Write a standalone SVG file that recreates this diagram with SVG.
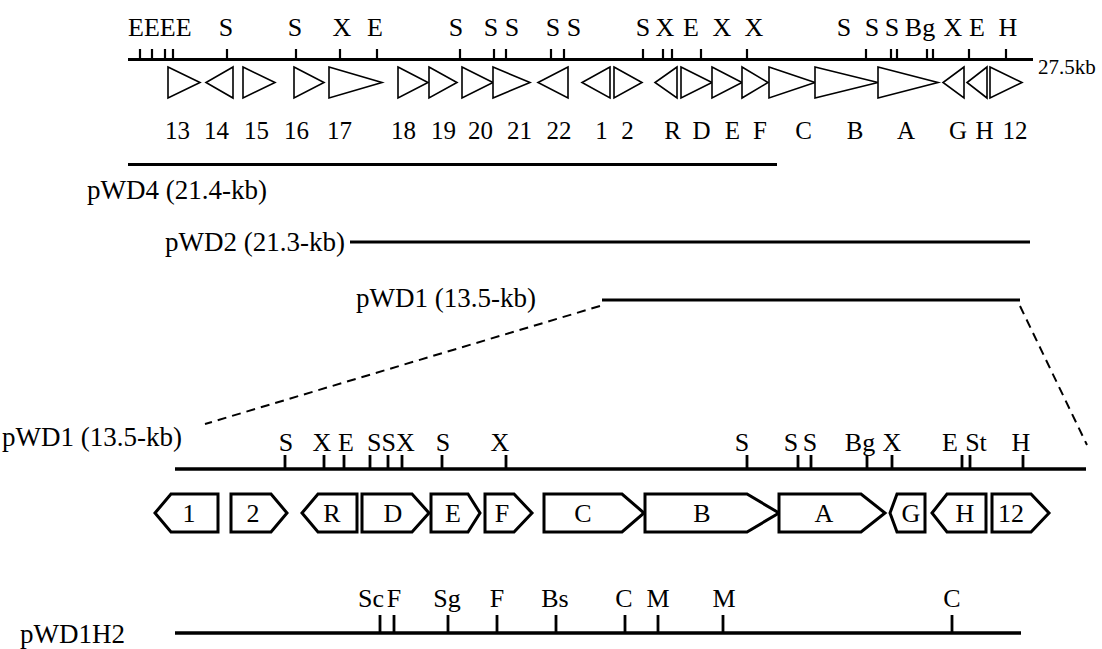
<svg xmlns="http://www.w3.org/2000/svg" width="1102" height="649" viewBox="0 0 1102 649">
<style>
text{font-family:"Liberation Serif","Times New Roman",serif;fill:#000}
.t26{font-size:26px}
.t25{font-size:25px}
.lab{font-size:27px}
.m{text-anchor:middle}
.ln{stroke:#000;stroke-width:3;fill:none}
.tk{stroke:#000;stroke-width:2.2}
.tri{fill:#fff;stroke:#000;stroke-width:1.6;stroke-linejoin:miter}
.pen{fill:#fff;stroke:#000;stroke-width:3;stroke-linejoin:miter}
.dash{stroke:#000;stroke-width:2;stroke-dasharray:9 6;fill:none}
</style>
<rect width="1102" height="649" fill="#fff"/>

<g id="top-map">
<line class="ln" x1="128" y1="59.5" x2="1033" y2="59.5"/>
<path class="tk" d="M140 49V59M152 49V59M165 49V59M173 49V59M227 49V59M296 49V59M340 49V59M377 49V59M460 49V59M494 49V59M506 49V59M551 49V59M564 49V59M643 49V59M663 49V59M672 49V59M701 49V59M747 49V59M866 49V59M891 49V59M897 49V59M927 49V59M933 49V59M969 49V59M1006 49V59"/>
<g class="t26 m">
<text x="128" y="36" style="text-anchor:start">EEEE</text>
<text x="226" y="36">S</text><text x="295" y="36">S</text><text x="342" y="36">X</text><text x="375" y="36">E</text>
<text x="456" y="36">S</text><text x="491" y="36">S</text><text x="512" y="36">S</text><text x="553" y="36">S</text><text x="574" y="36">S</text>
<text x="643" y="36">S</text><text x="665" y="36">X</text><text x="691" y="36">E</text><text x="722" y="36">X</text><text x="754" y="36">X</text>
<text x="844" y="36">S</text><text x="872" y="36">S</text><text x="892" y="36">S</text><text x="920" y="36">Bg</text><text x="953" y="36">X</text><text x="977" y="36">E</text><text x="1008" y="36">H</text>
</g>
<text x="1038" y="74" style="font-size:21px">27.5kb</text>
</g>

<g id="top-genes" class="t25 m">
<g id="g13"><polygon class="tri" points="168,67 200,82.5 168,98"/><text x="177.5" y="139">13</text></g>
<g id="g14"><polygon class="tri" points="233,67 206,82.5 233,98"/><text x="216.5" y="139">14</text></g>
<g id="g15"><polygon class="tri" points="243,67 275,82.5 243,98"/><text x="256.5" y="139">15</text></g>
<g id="g16"><polygon class="tri" points="294,67 324,82.5 294,98"/><text x="296.5" y="139">16</text></g>
<g id="g17"><polygon class="tri" points="329,67 382,82.5 329,98"/><text x="339.5" y="139">17</text></g>
<g id="g18"><polygon class="tri" points="398,67 428,82.5 398,98"/><text x="403.5" y="139">18</text></g>
<g id="g19"><polygon class="tri" points="429,67 457,82.5 429,98"/><text x="443.5" y="139">19</text></g>
<g id="g20"><polygon class="tri" points="462,67 493,82.5 462,98"/><text x="480.5" y="139">20</text></g>
<g id="g21"><polygon class="tri" points="493,67 530,82.5 493,98"/><text x="519.5" y="139">21</text></g>
<g id="g22"><polygon class="tri" points="568,67 538,82.5 568,98"/><text x="559" y="139">22</text></g>
<g id="g1t"><polygon class="tri" points="610,67 582,82.5 610,98"/><text x="601.5" y="139">1</text></g>
<g id="g2t"><polygon class="tri" points="614,67 642,82.5 614,98"/><text x="627.5" y="139">2</text></g>
<g id="gRt"><polygon class="tri" points="677,67 655,82.5 677,98"/><text x="672.5" y="139">R</text></g>
<g id="gDt"><polygon class="tri" points="681,67 712,82.5 681,98"/><text x="701.5" y="139">D</text></g>
<g id="gEt"><polygon class="tri" points="712,67 742,82.5 712,98"/><text x="732.5" y="139">E</text></g>
<g id="gFt"><polygon class="tri" points="742,67 768,82.5 742,98"/><text x="760" y="139">F</text></g>
<g id="gCt"><polygon class="tri" points="769,67 815,82.5 769,98"/><text x="803.5" y="139">C</text></g>
<g id="gBt"><polygon class="tri" points="815,67 878,82.5 815,98"/><text x="855" y="139">B</text></g>
<g id="gAt"><polygon class="tri" points="878,67 938,82.5 878,98"/><text x="906" y="139">A</text></g>
<g id="gGt"><polygon class="tri" points="964,67 943,82.5 964,98"/><text x="958" y="139">G</text></g>
<g id="gHt"><polygon class="tri" points="987,67 967,82.5 987,98"/><text x="984.5" y="139">H</text></g>
<g id="g12t"><polygon class="tri" points="990,67 1022,82.5 990,98"/><text x="1015" y="139">12</text></g>
</g>

<g id="pWD4"><line class="ln" x1="128" y1="164.5" x2="777" y2="164.5"/><text class="lab m" x="177" y="199">pWD4 (21.4-kb)</text></g>
<g id="pWD2"><line class="ln" x1="350" y1="242" x2="1030" y2="242"/><text class="lab" x="345" y="251" style="text-anchor:end">pWD2 (21.3-kb)</text></g>
<g id="pWD1"><line class="ln" x1="602" y1="300" x2="1020" y2="300"/><text class="lab m" x="446" y="307">pWD1 (13.5-kb)</text></g>

<g id="connectors">
<line class="dash" x1="600" y1="306" x2="205" y2="424"/>
<line class="dash" x1="1020" y1="306" x2="1087" y2="445"/>
</g>

<g id="pWD1-detail">
<text class="lab" x="2" y="446">pWD1 (13.5-kb)</text>
<line class="ln" x1="175" y1="469" x2="1086" y2="469" style="stroke-width:3.5"/>
<path class="tk" d="M285 455V468M324 455V468M344 455V468M370 455V468M388 455V468M402 455V468M442 455V468M506 455V468M747 455V468M798 455V468M811 455V468M867 455V468M892 455V468M962 455V468M970 455V468M1023 455V468" style="stroke-width:2.8"/>
<g class="t26 m">
<text x="286" y="451">S</text><text x="322" y="451">X</text><text x="346" y="451">E</text>
<text x="367" y="451" style="text-anchor:start">SSX</text>
<text x="443" y="451">S</text><text x="500" y="451">X</text>
<text x="742" y="451">S</text><text x="791" y="451">S</text><text x="810" y="451">S</text><text x="860" y="451">Bg</text><text x="892" y="451">X</text><text x="950" y="451">E</text><text x="976" y="451">St</text><text x="1021" y="451">H</text>
</g>
</g>

<g id="detail-genes" class="t26 m">
<g id="p1"><polygon class="pen" points="155,513 171,494 218,494 218,532 171,532"/><text x="189" y="522">1</text></g>
<g id="p2"><polygon class="pen" points="231,494 271,494 287,513 271,532 231,532"/><text x="253" y="522">2</text></g>
<g id="pR"><polygon class="pen" points="302,513 318,494 357,494 357,532 318,532"/><text x="332" y="522">R</text></g>
<g id="pD"><polygon class="pen" points="362,494 412,494 429,513 412,532 362,532"/><text x="393" y="522">D</text></g>
<g id="pE"><polygon class="pen" points="431,494 468,494 480,513 468,532 431,532"/><text x="453" y="522">E</text></g>
<g id="pF"><polygon class="pen" points="485,494 514,494 532,513 514,532 485,532"/><text x="502" y="522">F</text></g>
<g id="pC"><polygon class="pen" points="544,494 622,494 644,513 622,532 544,532"/><text x="583" y="522">C</text></g>
<g id="pB"><polygon class="pen" points="645,494 747,494 779,513 747,532 645,532"/><text x="702" y="522">B</text></g>
<g id="pA"><polygon class="pen" points="779,494 861,494 885,513 861,532 779,532"/><text x="824" y="522">A</text></g>
<g id="pG"><polygon class="pen" points="890,513 897,494 925,494 925,532 897,532"/><text x="911" y="522">G</text></g>
<g id="pH"><polygon class="pen" points="932,513 947,494 986,494 986,532 947,532"/><text x="965" y="522">H</text></g>
<g id="p12"><polygon class="pen" points="992,494 1031,494 1049,513 1031,532 992,532"/><text x="1011" y="522">12</text></g>
</g>

<g id="pWD1H2">
<text class="lab" x="20" y="643">pWD1H2</text>
<line class="ln" x1="175" y1="633" x2="1021" y2="633" style="stroke-width:3.5"/>
<path class="tk" d="M380 615V632M394 615V632M448 615V632M497 615V632M556 615V632M625 615V632M658 615V632M723 615V632M952 615V632" style="stroke-width:2.8"/>
<g class="t26 m">
<text x="371" y="607">Sc</text><text x="394" y="607">F</text><text x="447" y="607">Sg</text><text x="497" y="607">F</text><text x="555" y="607">Bs</text><text x="624" y="607">C</text><text x="658" y="607">M</text><text x="724" y="607">M</text><text x="952" y="607">C</text>
</g>
</g>
</svg>
